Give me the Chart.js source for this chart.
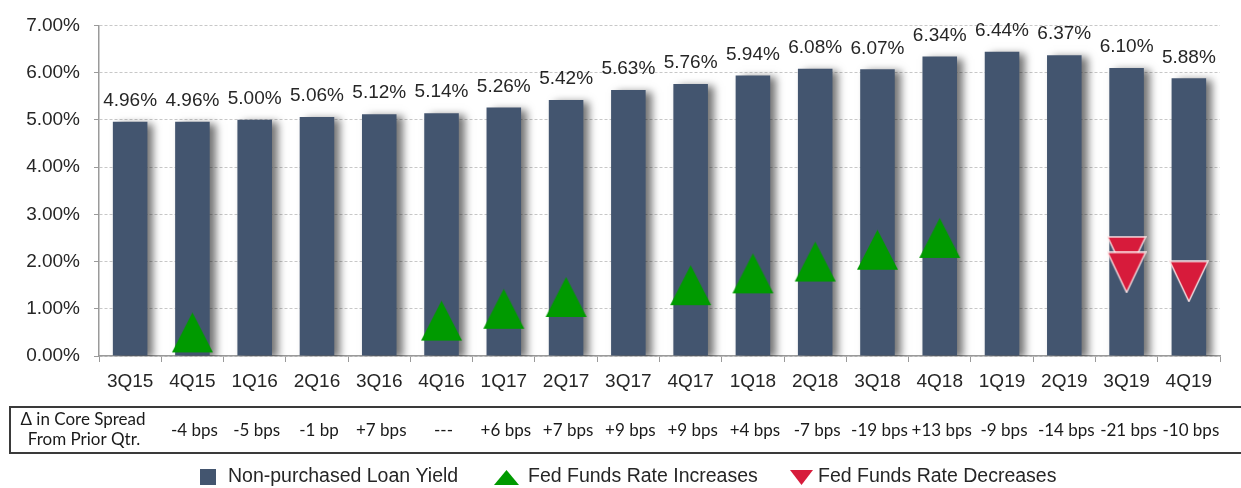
<!DOCTYPE html>
<html>
<head>
<meta charset="utf-8">
<script src="https://cdn.jsdelivr.net/npm/chart.js@4/dist/chart.umd.min.js"></script>
<style>
  html, body { margin: 0; padding: 0; background: #ffffff; }
  #wrap { width: 1241px; height: 488px; }
</style>
</head>
<body>
<div id="wrap"><canvas id="c" width="1241" height="488"></canvas></div>
<script>
// ---- data ----
const categories = ['3Q15','4Q15','1Q16','2Q16','3Q16','4Q16','1Q17','2Q17','3Q17','4Q17','1Q18','2Q18','3Q18','4Q18','1Q19','2Q19','3Q19','4Q19'];
const loanYield = [4.96, 4.96, 5.00, 5.06, 5.12, 5.14, 5.26, 5.42, 5.63, 5.76, 5.94, 6.08, 6.07, 6.34, 6.44, 6.37, 6.10, 5.88];
const increaseCats = ['4Q15','4Q16','1Q17','2Q17','4Q17','1Q18','2Q18','3Q18','4Q18'];
const increaseVals = [0.50, 0.75, 1.00, 1.25, 1.50, 1.75, 2.00, 2.25, 2.50];
const decreaseCats = ['3Q19','3Q19','4Q19'];
const decreaseVals = [2.10, 1.77, 1.58];
const spreadChange = ['', '-4 bps', '-5 bps', '-1 bp', '+7 bps', '---', '+6 bps', '+7 bps', '+9 bps', '+9 bps', '+4 bps', '-7 bps', '-19 bps', '+13 bps', '-9 bps', '-14 bps', '-21 bps', '-10 bps'];
const spreadRowTitle = ['\u0394 in Core Spread', 'From Prior Qtr.'];
const yTicks = [0, 1, 2, 3, 4, 5, 6, 7];

const BAR = '#43556F';
const GREEN = '#009A00';
const RED = '#D71B3B';
const ARIAL = "'Liberation Sans', Arial, sans-serif";
const CAL = "Lato, 'Open Sans', sans-serif";
const BAR_INDEX = 2;

function triCanvas(w, h, color, down, stroke) {
  const c = document.createElement('canvas');
  c.width = w + 2; c.height = h + 2;
  const g = c.getContext('2d');
  g.beginPath();
  if (down) {
    g.moveTo(1, 1); g.lineTo(w + 1, 1); g.lineTo(w / 2 + 1, h + 1);
  } else {
    g.moveTo(w / 2 + 1, 1); g.lineTo(w + 1, h + 1); g.lineTo(1, h + 1);
  }
  g.closePath();
  g.fillStyle = color; g.fill();
  if (stroke) { g.lineWidth = 1.4; g.strokeStyle = stroke; g.stroke(); }
  return c;
}
const upTri = triCanvas(41, 40, GREEN, false, null);
const downTri = triCanvas(38, 40, RED, true, 'rgba(255,235,235,0.95)');
const upTriLegend = triCanvas(25, 15, GREEN, false, null);
const downTriLegend = triCanvas(23, 15, RED, true, null);

Chart.defaults.font.family = ARIAL;
Chart.defaults.color = '#333333';

const shadowPlugin = {
  id: 'barShadow',
  beforeDatasetDraw(chart, args) {
    if (args.index !== BAR_INDEX) return;
    const ctx = chart.ctx;
    ctx.save();
    ctx.shadowColor = 'rgba(0,0,0,0.55)';
    ctx.shadowOffsetX = 6;
    ctx.shadowOffsetY = 2;
    ctx.shadowBlur = 8;
  },
  afterDatasetDraw(chart, args) {
    if (args.index !== BAR_INDEX) return;
    chart.ctx.restore();
  }
};

const labelsPlugin = {
  id: 'barLabels',
  afterDatasetsDraw(chart) {
    const ctx = chart.ctx;
    const meta = chart.getDatasetMeta(BAR_INDEX);
    ctx.save();
    ctx.font = '19px ' + ARIAL;
    ctx.fillStyle = '#262626';
    ctx.textAlign = 'center';
    ctx.textBaseline = 'middle';
    meta.data.forEach((el, i) => {
      ctx.fillText(loanYield[i].toFixed(2) + '%', el.x, el.y - 21);
    });
    ctx.restore();
  }
};

const tablePlugin = {
  id: 'spreadTable',
  afterDraw(chart) {
    const ctx = chart.ctx;
    const xs = chart.scales.x;
    ctx.save();
    ctx.strokeStyle = '#3a3a3a';
    ctx.lineWidth = 2;
    ctx.beginPath();
    ctx.moveTo(1241, 407); ctx.lineTo(10, 407); ctx.lineTo(10, 453); ctx.lineTo(1241, 453);
    ctx.stroke();
    ctx.fillStyle = '#1a1a1a';
    ctx.textAlign = 'center';
    ctx.textBaseline = 'middle';
    ctx.font = '17px ' + CAL;
    ctx.fillText(spreadRowTitle[0], 83, 420);
    ctx.fillText(spreadRowTitle[1], 84, 440);
    spreadChange.forEach((t, i) => {
      if (!t) return;
      ctx.fillText(t, xs.getPixelForValue(i) + 2, 431);
    });
    const ds = chart.data.datasets;
    ctx.textAlign = 'left';
    ctx.font = '19.5px ' + ARIAL;
    const ly = 477;
    ctx.fillStyle = BAR;
    ctx.fillRect(200, ly - 8, 16, 16);
    ctx.fillStyle = '#262626';
    ctx.fillText(ds[BAR_INDEX].label, 228, ly);
    ctx.drawImage(upTriLegend, 493, ly - 8);
    ctx.fillText(ds[0].label, 528, ly);
    ctx.drawImage(downTriLegend, 789, ly - 8);
    ctx.fillText(ds[1].label, 818, ly);
    ctx.restore();
  }
};

new Chart(document.getElementById('c'), {
  type: 'bar',
  data: {
    labels: categories,
    datasets: [
      {
        type: 'line',
        label: 'Fed Funds Rate Increases',
        data: increaseCats.map((c, i) => ({ x: c, y: increaseVals[i] })),
        showLine: false,
        pointStyle: upTri,
        pointRadius: 20,
        pointHoverRadius: 20,
        backgroundColor: GREEN,
        borderColor: GREEN,
        order: 1
      },
      {
        type: 'line',
        label: 'Fed Funds Rate Decreases',
        data: decreaseCats.map((c, i) => ({ x: c, y: decreaseVals[i] })),
        showLine: false,
        pointStyle: downTri,
        pointRadius: 20,
        pointHoverRadius: 20,
        backgroundColor: RED,
        borderColor: RED,
        order: 1
      },
      {
        type: 'bar',
        label: 'Non-purchased Loan Yield',
        data: loanYield,
        backgroundColor: BAR,
        borderWidth: 0,
        categoryPercentage: 1,
        barPercentage: 0.555,
        order: 2
      }
    ]
  },
  options: {
    responsive: false,
    animation: false,
    events: [],
    layout: { padding: { top: 22, right: 3, left: 0, bottom: 0 } },
    plugins: {
      legend: { display: false },
      tooltip: { enabled: false }
    },
    scales: {
      x: {
        type: 'category',
        offset: true,
        grid: { drawOnChartArea: false, offset: true, tickLength: 6, color: '#9a9a9a', lineWidth: 1 },
        border: { display: true, color: '#9a9a9a', width: 1.5 },
        ticks: { font: { size: 19 }, color: '#262626', padding: 8, maxRotation: 0, autoSkip: false },
        afterFit(scale) { scale.height = 132; }
      },
      y: {
        min: 0,
        max: 7,
        afterBuildTicks(scale) { scale.ticks = yTicks.map(v => ({ value: v })); },
        grid: { color: '#c8c8c8', lineWidth: 1, tickLength: 5, tickColor: '#9a9a9a', tickBorderDash: [] },
        border: { display: true, color: '#9a9a9a', width: 1.5, dash: [3, 2] },
        ticks: {
          font: { size: 19 },
          color: '#262626',
          padding: 14,
          callback: (v) => Number(v).toFixed(2) + '%'
        },
        afterFit(scale) { scale.width = 99; }
      }
    }
  },
  plugins: [shadowPlugin, labelsPlugin, tablePlugin]
});
</script>
</body>
</html>
